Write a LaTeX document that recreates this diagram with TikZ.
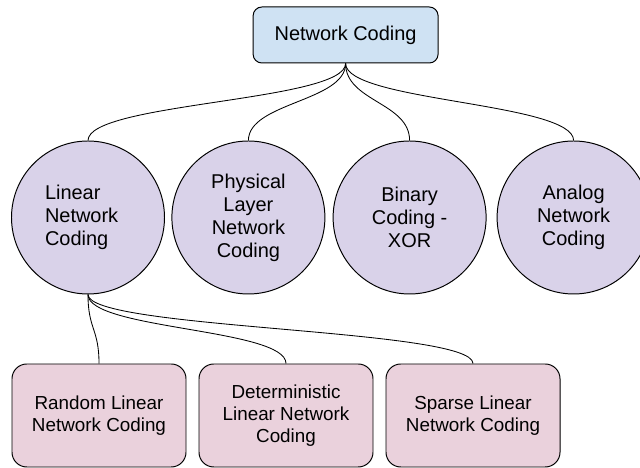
\documentclass[tikz,border=0pt]{standalone}
\usepackage{fontspec}
\setmainfont{Liberation Sans}
\usepackage{xcolor}
\usepackage{tikz}
\usetikzlibrary{positioning,calc,shapes}

\definecolor{topblue}{HTML}{CFE2F3}
\definecolor{midpurple}{HTML}{D9D2E9}
\definecolor{lowpink}{HTML}{EAD1DC}

\begin{document}
\begin{tikzpicture}[
    rootbox/.style={draw=black, line width=0.7pt, fill=topblue, rounded corners=0.22cm,
        minimum width=4.625cm, minimum height=1.4cm, inner sep=0pt,
        font=\fontsize{14.2}{16.4}\selectfont},
    kindcircle/.style={circle, draw=black, line width=0.7pt, fill=midpurple,
        minimum size=3.825cm, inner sep=0pt, align=center,
        font=\fontsize{14.2}{16.4}\selectfont},
    subbox/.style={draw=black, line width=0.7pt, fill=lowpink, rounded corners=0.37cm,
        minimum width=4.35cm, minimum height=2.575cm, inner sep=0pt, align=center,
        font=\fontsize{13.4}{15.9}\selectfont},
    link/.style={black, line width=0.6pt}
]
\useasboundingbox (0,0) rectangle (16,11.7);

\node[rootbox] (nc) at (8.64,10.825) {Network Coding};

\node[kindcircle, text width=2.15cm, align=left] (lnc) at (2.2,6.2625) {Linear\\Network\\Coding};
\node[kindcircle] (plnc) at (6.21,6.2625) {Physical\\Layer\\Network\\Coding};
\node[kindcircle] (xor) at (10.24,6.2625) {Binary\\Coding -\\XOR};
\node[kindcircle] (anc) at (14.34,6.2625) {Analog\\Network\\Coding};

\draw[link] (nc.south) .. controls +(0,-0.95) and +(0,0.95) .. (lnc.north);
\draw[link] (nc.south) .. controls +(0,-0.95) and +(0,0.95) .. (plnc.north);
\draw[link] (nc.south) .. controls +(0,-0.95) and +(0,0.95) .. (xor.north);
\draw[link] (nc.south) .. controls +(0,-0.95) and +(0,0.95) .. (anc.north);

\node[subbox] (rlnc) at (2.475,1.3125) {Random Linear\\Network Coding};
\node[subbox] (dlnc) at (7.15,1.3125) {Deterministic\\Linear Network\\Coding};
\node[subbox] (slnc) at (11.825,1.3125) {Sparse Linear\\Network Coding};

\draw[link] (lnc.south) .. controls +(0,-0.875) and +(0,0.875) .. (rlnc.north);
\draw[link] (lnc.south) .. controls +(0,-0.875) and +(0,0.875) .. (dlnc.north);
\draw[link] (lnc.south) .. controls +(0,-0.875) and +(0,0.875) .. (slnc.north);

\end{tikzpicture}
\end{document}
